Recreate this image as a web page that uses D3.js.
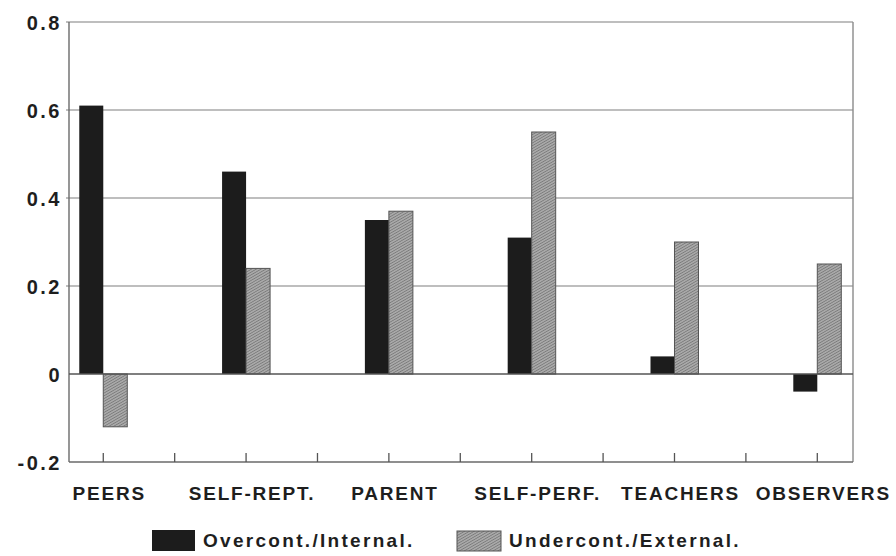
<!DOCTYPE html>
<html><head><meta charset="utf-8">
<script src="https://cdn.jsdelivr.net/npm/d3@7"></script>
<style>
html,body{margin:0;padding:0;background:#fff;}
svg{display:block;}
text{font-family:"Liberation Sans",Arial,Helvetica,sans-serif;font-weight:bold;fill:#1e1e1e;}
</style></head>
<body>
<svg id="chart" width="896" height="556"></svg>
<script>
const categories = ["PEERS","SELF-REPT.","PARENT","SELF-PERF.","TEACHERS","OBSERVERS"];
const overcontInternal = [0.61, 0.46, 0.35, 0.31, 0.04, -0.04];
const undercontExternal = [-0.12, 0.24, 0.37, 0.55, 0.30, 0.25];
const seriesNames = ["Overcont./Internal.","Undercont./External."];
const yTicks = [-0.2, 0, 0.2, 0.4, 0.6, 0.8];
const yTickLabels = ["-0.2","0","0.2","0.4","0.6","0.8"];
const xTickPositions = [0,0.5,1,1.5,2,2.5,3,3.5,4,4.5,5];

const svg = d3.select("#chart");
const L = 69, R = 853, T = 22, B = 462;
const y = d3.scaleLinear().domain([-0.2, 0.8]).range([B, T]);
const x = d3.scaleLinear().domain([-0.24, 5.25]).range([L, R]);
const bw = 24;

const defs = svg.append("defs");
const pat = defs.append("pattern").attr("id","hatch").attr("patternUnits","userSpaceOnUse")
  .attr("width",2.4).attr("height",2.4).attr("patternTransform","rotate(-30)");
pat.append("rect").attr("width",2.4).attr("height",2.4).attr("fill","#b0b0b0");
pat.append("line").attr("x1",0).attr("y1",1.2).attr("x2",2.4).attr("y2",1.2)
  .attr("stroke","#7a7a7a").attr("stroke-width",1);

// gridlines
svg.append("g").selectAll("line").data(yTicks.filter(d => d !== 0 && d !== -0.2)).join("line")
  .attr("x1", L - 3).attr("x2", R).attr("y1", d => y(d)).attr("y2", d => y(d))
  .attr("stroke", "#a8a8a8").attr("stroke-width", 1.3);

// frame
svg.append("line").attr("x1",L).attr("x2",L).attr("y1",T).attr("y2",B).attr("stroke","#6a6a6a").attr("stroke-width",1.4);
svg.append("line").attr("x1",R).attr("x2",R).attr("y1",T).attr("y2",B).attr("stroke","#8a8a8a").attr("stroke-width",1.4);
svg.append("line").attr("x1",L).attr("x2",R).attr("y1",B).attr("y2",B).attr("stroke","#6a6a6a").attr("stroke-width",1.4);

// bars
const g = svg.append("g");
g.selectAll("rect.dark").data(overcontInternal).join("rect").attr("class","dark")
  .attr("x",(d,i)=>x(i)-bw).attr("width",bw)
  .attr("y",d=>y(Math.max(0,d))).attr("height",d=>Math.abs(y(d)-y(0)))
  .attr("fill","#1c1c1c");
g.selectAll("rect.hatch").data(undercontExternal).join("rect").attr("class","hatch")
  .attr("x",(d,i)=>x(i)).attr("width",bw)
  .attr("y",d=>y(Math.max(0,d))).attr("height",d=>Math.abs(y(d)-y(0)))
  .attr("fill","url(#hatch)").attr("stroke","#555").attr("stroke-width",1);

// zero line
svg.append("line").attr("x1",L).attr("x2",R).attr("y1",y(0)).attr("y2",y(0)).attr("stroke","#555").attr("stroke-width",1.4);

// x ticks
svg.append("g").selectAll("line").data(xTickPositions).join("line")
  .attr("x1",d=>x(d)).attr("x2",d=>x(d)).attr("y1",B).attr("y2",B-9)
  .attr("stroke","#555").attr("stroke-width",1.3);

// y labels
svg.append("g").selectAll("text").data(yTicks).join("text")
  .attr("x", 62).attr("y", d => y(d) + 8).attr("text-anchor","end")
  .style("font-size","20px").style("letter-spacing","2.5px")
  .text((d,i)=>yTickLabels[i]);

// category labels
svg.append("g").selectAll("text").data(categories).join("text")
  .attr("x",(d,i)=>x(i)+6).attr("y",500).attr("text-anchor","middle")
  .style("font-size","19px").style("letter-spacing","1.8px")
  .text(d=>d);

// legend
const lg = svg.append("g");
lg.append("rect").attr("x",152).attr("y",530).attr("width",43).attr("height",21).attr("fill","#1c1c1c");
lg.append("text").attr("x",203).attr("y",547).style("font-size","19px").style("letter-spacing","2.3px").text(seriesNames[0]);
lg.append("rect").attr("x",457).attr("y",531).attr("width",44).attr("height",20).attr("fill","url(#hatch)").attr("stroke","#555");
lg.append("text").attr("x",509).attr("y",547).style("font-size","19px").style("letter-spacing","2.3px").text(seriesNames[1]);
</script>
</body></html>
